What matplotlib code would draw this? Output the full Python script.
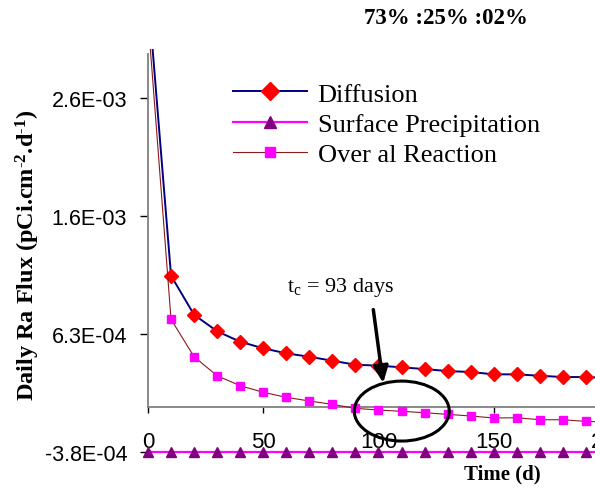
import matplotlib
matplotlib.use("Agg")
import matplotlib.pyplot as plt
from matplotlib.patches import Ellipse

plt.rcParams['font.family'] = ['Liberation Serif', 'DejaVu Serif']
plt.rcParams['mathtext.fontset'] = 'custom'
plt.rcParams['mathtext.rm'] = 'Liberation Serif'
plt.rcParams['mathtext.it'] = 'Liberation Serif:italic'
plt.rcParams['mathtext.bf'] = 'Liberation Serif:bold'

# time in days, fluxes in pCi/cm2/d
days = [0, 10, 20, 30, 40, 50, 60, 70, 80, 90, 100,
        110, 120, 130, 140, 150, 160, 170, 180, 190, 200]
diffusion = [3.54e-3, 1.123e-3, 7.90e-4, 6.49e-4, 5.60e-4, 5.04e-4, 4.61e-4,
             4.32e-4, 3.98e-4, 3.64e-4, 3.56e-4, 3.42e-4, 3.27e-4, 3.10e-4,
             3.02e-4, 2.82e-4, 2.82e-4, 2.70e-4, 2.59e-4, 2.59e-4, 2.50e-4]
surface = [-3.8e-4] * 21
overall = [3.32e-3, 7.51e-4, 4.32e-4, 2.70e-4, 1.85e-4, 1.29e-4, 8.6e-5,
           5.5e-5, 2.6e-5, -8e-6, -2.2e-5, -3.3e-5, -4.5e-5, -5.9e-5,
           -7.3e-5, -9.0e-5, -8.8e-5, -1.05e-4, -1.05e-4, -1.19e-4, -1.25e-4]

y_ticks = [-3.8e-4, 6.26e-4, 1.632e-3, 2.638e-3]
y_tick_labels = ['-3.8E-04', '6.3E-04', '1.6E-03', '2.6E-03']
x_ticks = [0, 50, 100, 150, 200]

t_c = 93

fig = plt.figure(figsize=(5.95, 4.89), dpi=100)
ax = fig.add_axes([0.2487, 0.0736, 0.7748, 0.8241])

ax.plot(days, diffusion, color='#000080', lw=1.4, marker='D', ms=7,
        mfc='#FF0000', mec='#FF0000', label='Diffusion', zorder=3)
ax.plot(days, surface, color='#FF00FF', lw=1.6, marker='^', ms=6.5,
        mfc='#800080', mec='#800080', label='Surface Precipitation',
        clip_on=False, zorder=4)
ax.plot(days, overall, color='#8B1A1A', lw=0.8, marker='s', ms=5.5,
        mfc='#FF00FF', mec='#FF00FF', label='Over al Reaction', zorder=3)

ax.set_xlim(0, 200)
ax.set_ylim(-3.8e-4, 3.055e-3)

for s in ['top', 'right']:
    ax.spines[s].set_visible(False)
ax.spines['bottom'].set_position(('data', 0))
ax.spines['bottom'].set_color('#808080')
ax.spines['bottom'].set_linewidth(1.3)
ax.spines['left'].set_color('#808080')
ax.spines['left'].set_linewidth(1.3)
ax.spines['left'].set_bounds(0, 3.013e-3)

ax.set_xticks(x_ticks)
ax.set_xticklabels([str(v) for v in x_ticks])
ax.set_yticks(y_ticks)
ax.set_yticklabels(y_tick_labels)
ax.tick_params(axis='x', direction='out', length=4, width=1, pad=13,
               labelsize=16, labelfontfamily='Liberation Sans')
ax.tick_params(axis='y', direction='out', length=6, width=1, pad=9,
               labelsize=15.5, labelfontfamily='Liberation Sans')

leg = ax.legend(loc='upper left', bbox_to_anchor=(0.392, 0.83),
                bbox_transform=fig.transFigure, frameon=False, fontsize=19,
                handlelength=2.8, handletextpad=0.4, labelspacing=0.26,
                borderpad=0, borderaxespad=0, markerscale=1.25)

# critical time marker
ax.annotate('', xy=(102.2, 1.85e-4), xytext=(97.6, 8.57e-4),
            arrowprops=dict(arrowstyle='-|>,head_width=0.45,head_length=1.0',
                            lw=2.5, color='black'))
ax.text(83.7, 1.035e-3, 't$_\\mathrm{c}$ = %d days' % t_c, fontsize=16,
        ha='center', va='center')
ax.add_patch(Ellipse((110.1, -3.1e-5), 41.2, 5.11e-4, fill=False,
                     lw=2.2, ec='black', zorder=5))

fig.text(0.75, 0.963, '73% :25% :02%', fontsize=16.5, fontweight='bold',
         ha='center', va='center')
fig.text(0.844, 0.029, 'Time (d)', fontsize=15, fontweight='bold',
         ha='center', va='center')
fig.text(0.047, 0.478,
         'Daily Ra Flux (pCi.cm$^{\\mathbf{\\text{-}2}}$.d$^{\\mathbf{\\text{-}1}}$)',
         fontsize=17.5, fontweight='bold', rotation=90,
         ha='center', va='center')

fig.savefig('out.png', dpi=100)
